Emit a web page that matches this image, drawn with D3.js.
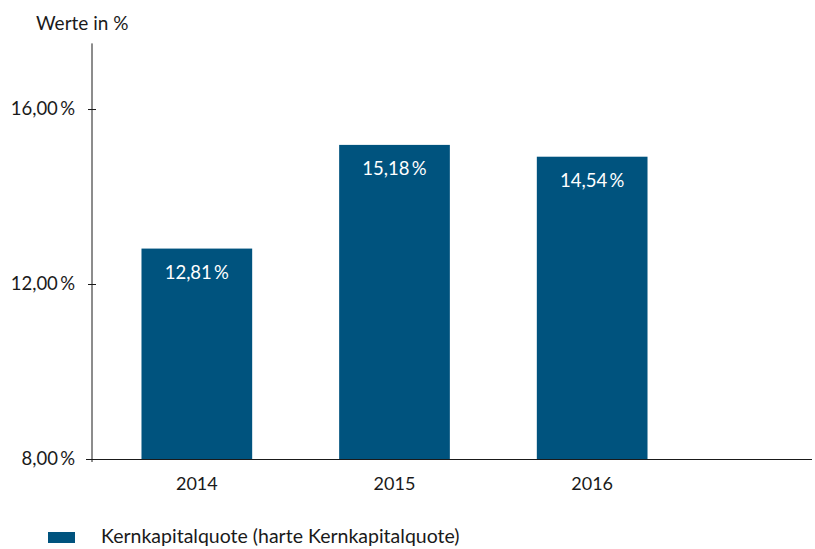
<!DOCTYPE html>
<html>
<head>
<meta charset="utf-8">
<script src="https://cdn.jsdelivr.net/npm/d3@7"></script>
<style>
  body { margin: 0; background: #fff; }
  text { font-family: Lato, "Open Sans", sans-serif; fill: #1a1a1a; }
</style>
</head>
<body>
<div id="chart-area"></div>
<script>
// data
let years = ["2014", "2015", "2016"];
let values = [12.81, 15.18, 14.91];           // bar heights as drawn
let valueLabels = ["12,81\u2009%", "15,18\u2009%", "14,54\u2009%"]; // printed labels
let yTicks = [8, 12, 16];
let yTickLabels = ["8,00\u2009%", "12,00\u2009%", "16,00\u2009%"];
let seriesName = "Kernkapitalquote (harte Kernkapitalquote)";

let barColor = "#00537e";

let svg = d3.select("#chart-area")
  .append("svg")
    .attr("width", 815)
    .attr("height", 549);

// scales
let y = d3.scaleLinear()
  .domain([8, 17.5])
  .range([459, 43.4]);

let x = d3.scaleBand()
  .domain(years)
  .range([98, 691])
  .paddingInner(0.44)
  .paddingOuter(0.22);

// y axis
let yAxisCall = d3.axisLeft(y)
  .tickValues(yTicks)
  .tickSize(4)
  .tickPadding(13)
  .tickFormat((d, i) => yTickLabels[i]);

let yAxis = svg.append("g")
  .attr("transform", "translate(92, 0)")
  .call(yAxisCall);
yAxis.select(".domain").remove();
yAxis.selectAll(".tick line")
  .attr("x1", 4)
  .attr("stroke", "#1a1a1a");
yAxis.selectAll(".tick text")
  .attr("font-family", "Lato, 'Open Sans', sans-serif")
  .attr("font-size", "18.5px")
  .attr("fill", "#1a1a1a");

// bars
svg.selectAll("rect.bar")
  .data(years)
  .enter()
  .append("rect")
    .attr("class", "bar")
    .attr("x", (d) => x(d))
    .attr("y", (d, i) => y(values[i]))
    .attr("width", x.bandwidth())
    .attr("height", (d, i) => y(8) - y(values[i]))
    .attr("fill", barColor);

// value labels inside bars
svg.selectAll("text.val")
  .data(years)
  .enter()
  .append("text")
    .attr("class", "val")
    .attr("x", (d) => x(d) + x.bandwidth() / 2)
    .attr("y", (d, i) => y(values[i]) + 30)
    .attr("text-anchor", "middle")
    .attr("font-size", "18.5px")
    .style("fill", "#fff")
    .text((d, i) => valueLabels[i]);

// axis lines
svg.append("line")
  .attr("x1", 92).attr("x2", 92)
  .attr("y1", y(17.5)).attr("y2", y(8) + 3)
  .attr("stroke", "#1a1a1a");
svg.append("line")
  .attr("x1", 86).attr("x2", 812)
  .attr("y1", y(8) + 0.5).attr("y2", y(8) + 0.5)
  .attr("stroke", "#1a1a1a");

// x labels
svg.selectAll("text.year")
  .data(years)
  .enter()
  .append("text")
    .attr("class", "year")
    .attr("x", (d) => x(d) + x.bandwidth() / 2)
    .attr("y", 490)
    .attr("text-anchor", "middle")
    .attr("font-size", "18px")
    .text((d) => d);

// axis title
svg.append("text")
  .attr("x", 36)
  .attr("y", 30)
  .attr("font-size", "19px")
  .text("Werte in %");

// legend
svg.append("rect")
  .attr("x", 48).attr("y", 532)
  .attr("width", 27).attr("height", 11)
  .attr("fill", barColor);
svg.append("text")
  .attr("x", 101)
  .attr("y", 543)
  .attr("font-size", "19.5px")
  .text(seriesName);
</script>
</body>
</html>
